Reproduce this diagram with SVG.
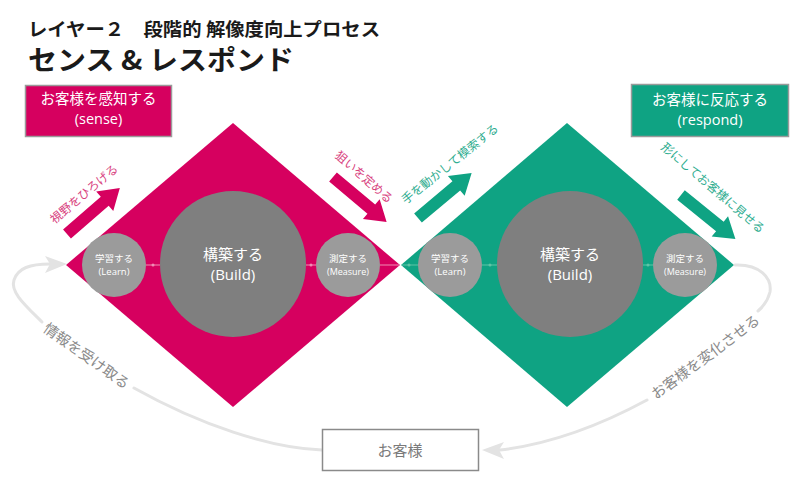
<svg xmlns="http://www.w3.org/2000/svg" width="800" height="483" viewBox="0 0 800 483">
<defs>
<style>
text{font-family:'Open Sans','Noto Sans CJK JP',sans-serif;}
.ttl{font-family:'Noto Sans CJK JP',sans-serif;font-weight:bold;fill:#1a1a1a;}
.pink{fill:#d6005f;}
.green{fill:#0fa383;}
.lbl{fill:#ffffff;font-size:14.5px;text-anchor:middle;}
.big{fill:#7f7f7f;}
.small{fill:#9b9b9b;}
.ct{fill:#ffffff;text-anchor:middle;}
.curve{fill:none;stroke:#e3e3e3;stroke-width:3;stroke-linecap:round;}
.head{fill:#e3e3e3;}
.ctext{fill:#8a8a8a;font-size:14.5px;text-anchor:middle;}
.atxt{font-size:12px;text-anchor:middle;}
.inl{stroke-width:1;fill:none;}
</style>
<path id="blk" d="M0,-6 L50,-6 L50,-13 L70,0 L50,13 L50,6 L0,6 Z"/>
</defs>

<text class="ttl" x="28" y="36" font-size="18.5" textLength="352" lengthAdjust="spacingAndGlyphs">レイヤー２　段階的 解像度向上プロセス</text>
<text class="ttl" x="28" y="70" font-size="27" textLength="266" lengthAdjust="spacingAndGlyphs">センス &amp; レスポンド</text>

<g id="sense-diamond">
<polygon class="pink" points="66,265 233,123 400,265 233,407"/>
</g>
<g id="respond-diamond">
<polygon class="green" points="401,265 567,123 734,265 567,407"/>
</g>

<g id="connectors">
<g stroke="#f08cb4" class="inl">
<line x1="146" y1="265" x2="160" y2="265"/>
<line x1="306" y1="265" x2="316" y2="265"/>
<line x1="380" y1="265" x2="399" y2="265"/>
</g>
<circle cx="153" cy="265" r="1.5" fill="#f08cb4"/>
<circle cx="311" cy="265" r="1.5" fill="#f08cb4"/>
<g stroke="#5fc4a6" class="inl">
<line x1="402" y1="265" x2="418" y2="265"/>
<line x1="482" y1="265" x2="497" y2="265"/>
<line x1="643" y1="265" x2="653" y2="265"/>
</g>
<circle cx="409" cy="265" r="1.5" fill="#5fc4a6"/>
<circle cx="490" cy="265" r="1.5" fill="#5fc4a6"/>
<circle cx="648" cy="265" r="1.5" fill="#5fc4a6"/>

<path class="curve" d="M322,450 C270,448 200,425 134,388"/>
<path class="curve" d="M42,322 C25,305 10,292 14,280 C18,268 30,264 50,264"/>
<path class="head" d="M67,264 L45,256 L50,264 L45,273 Z"/>
<path class="curve" d="M735,265 C760,264 772,278 770,292 C768,300 764,306 758,311"/>
<path class="curve" d="M647,400 C610,420 560,443 500,450"/>
<path class="head" d="M482,450 L504,442 L499,450 L504,459 Z"/>
</g>

<g id="arrow-widen">
<use href="#blk" class="pink" transform="translate(67,234) rotate(-41)"/>
<text class="atxt" fill="#d83f7e" transform="translate(84,194) rotate(-40)" dy="0.35em">視野をひろげる</text>
</g>
<g id="arrow-aim">
<use href="#blk" class="pink" transform="translate(333,177) rotate(40)"/>
<text class="atxt" fill="#d83f7e" transform="translate(364,177) rotate(41)" dy="0.35em">狙いを定める</text>
</g>
<g id="arrow-explore">
<use href="#blk" class="green" transform="translate(418,218) rotate(-40)"/>
<text class="atxt" fill="#30ad90" transform="translate(450,164) rotate(-38.6)" dy="0.35em">手を動かして模索する</text>
</g>
<g id="arrow-show">
<use href="#blk" class="green" transform="translate(681,195) rotate(39)"/>
<text class="atxt" fill="#30ad90" transform="translate(713,188) rotate(40.5)" dy="0.35em">形にしてお客様に見せる</text>
</g>

<g id="sense-box">
<rect x="25.5" y="85.5" width="146" height="51" class="pink" stroke="#9a9a9a" stroke-width="1.5"/>
<text class="lbl" x="98.5" y="104">お客様を感知する</text>
<text class="lbl" x="98.5" y="124">(sense)</text>
</g>
<g id="respond-box">
<rect x="631.5" y="84.5" width="157" height="52" class="green" stroke="#9a9a9a" stroke-width="1.5"/>
<text class="lbl" x="710" y="105">お客様に反応する</text>
<text class="lbl" x="710" y="125">(respond)</text>
</g>

<g id="learn-1">
<circle cx="114" cy="265" r="32" class="small"/>
<text class="ct" x="114" y="262" font-size="9.5">学習する</text>
<text class="ct" x="114" y="275" font-size="9.5">(Learn)</text>
</g>
<g id="build-1">
<circle cx="233" cy="264" r="73" class="big"/>
<text class="ct" x="233" y="260" font-size="15">構築する</text>
<text class="ct" x="233" y="280" font-size="15">(Build)</text>
</g>
<g id="measure-1">
<circle cx="348" cy="265" r="32" class="small"/>
<text class="ct" x="348" y="262" font-size="9.5">測定する</text>
<text class="ct" x="348" y="275" font-size="9">(Measure)</text>
</g>
<g id="learn-2">
<circle cx="450" cy="265" r="32" class="small"/>
<text class="ct" x="450" y="262" font-size="9.5">学習する</text>
<text class="ct" x="450" y="275" font-size="9.5">(Learn)</text>
</g>
<g id="build-2">
<circle cx="570" cy="264" r="73" class="big"/>
<text class="ct" x="570" y="260" font-size="15">構築する</text>
<text class="ct" x="570" y="280" font-size="15">(Build)</text>
</g>
<g id="measure-2">
<circle cx="685" cy="265" r="32" class="small"/>
<text class="ct" x="685" y="262" font-size="9.5">測定する</text>
<text class="ct" x="685" y="275" font-size="9">(Measure)</text>
</g>

<g id="customer">
<rect x="322.5" y="429.5" width="156" height="41" fill="#ffffff" stroke="#8a8a8a" stroke-width="1.5"/>
<text x="400" y="456" font-size="15" fill="#7a7a7a" text-anchor="middle">お客様</text>
</g>

<text class="ctext" transform="translate(86.5,356) rotate(35.5)" dy="0.35em">情報を受け取る</text>
<text class="ctext" transform="translate(705.5,357) rotate(-36.4)" dy="0.35em">お客様を変化させる</text>
</svg>
